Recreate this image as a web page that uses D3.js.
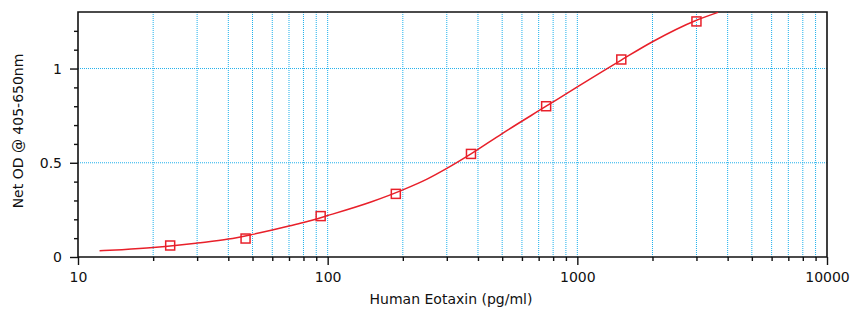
<!DOCTYPE html>
<html><head><meta charset="utf-8">
<script src="https://cdn.jsdelivr.net/npm/d3@7"></script>
<style>body{margin:0;background:#fff}svg{display:block}text{font-family:"DejaVu Sans",Arial,sans-serif;fill:#111}</style>
</head><body>
<svg id="c" width="852" height="312"></svg>
<script>
// Measured standards
const concentrations = [23.4, 46.9, 93.75, 187.5, 375, 750, 1500, 3000];
const odValues = [0.061, 0.098, 0.217, 0.335, 0.547, 0.800, 1.048, 1.250];
// Fitted curve
const curveConc = [12.2, 15, 20, 25, 30, 40, 50, 60, 70, 80, 100, 150, 200, 250, 300, 375, 500, 750, 1000, 1500, 2000, 3000, 3660];
const curveOD = [0.033, 0.039, 0.050, 0.062, 0.074, 0.095, 0.120, 0.143, 0.164, 0.183, 0.220, 0.293, 0.356, 0.413, 0.470, 0.547, 0.655, 0.800, 0.903, 1.045, 1.142, 1.256, 1.298];
const xTickLabels = [10, 100, 1000, 10000];
const yTickLabels = [0, 0.5, 1];
const yMinorTicks = [0.1,0.2,0.3,0.4,0.6,0.7,0.8,0.9,1.1,1.2];
const xLabel = "Human Eotaxin (pg/ml)";
const yLabel = "Net OD @ 405-650nm";

const L = 78, R = 827, T = 12, B = 257;
const svg = d3.select("#c");
const x = d3.scaleLog().domain([10, 10000]).range([L, R]);
const y = d3.scaleLinear().domain([0, 1.3]).range([B, T]);

const xMinor = [];
[10, 100, 1000].forEach(d => { for (let k = 2; k <= 9; k++) xMinor.push(d * k); });
const xGrid = xMinor.concat([100, 1000]);

const grid = "#1eb0ec";
svg.append("g").selectAll("line").data(xGrid).join("line")
  .attr("x1", d => x(d)).attr("x2", d => x(d)).attr("y1", T).attr("y2", B)
  .attr("stroke", grid).attr("stroke-width", 1).attr("stroke-dasharray", "1,1");
svg.append("g").selectAll("line").data([0.5, 1]).join("line")
  .attr("x1", L).attr("x2", R).attr("y1", d => y(d)).attr("y2", d => y(d))
  .attr("stroke", grid).attr("stroke-width", 1).attr("stroke-dasharray", "1,1");

// axes
const xAxis = svg.append("g").attr("transform", `translate(0,${B})`)
  .call(d3.axisBottom(x).tickValues(xTickLabels).tickFormat(d3.format("d")).tickSize(8).tickPadding(7));
const xAxisMinor = svg.append("g").attr("transform", `translate(0,${B})`)
  .call(d3.axisBottom(x).tickValues(xMinor).tickFormat("").tickSize(4));
const yAxis = svg.append("g").attr("transform", `translate(${L},0)`)
  .call(d3.axisLeft(y).tickValues(yTickLabels).tickFormat(d => d === 0 ? "0" : String(d)).tickSize(8).tickPadding(8));
const yAxisMinor = svg.append("g").attr("transform", `translate(${L},0)`)
  .call(d3.axisLeft(y).tickValues(yMinorTicks).tickFormat("").tickSize(4));
[xAxis, xAxisMinor, yAxis, yAxisMinor].forEach(g => {
  g.select(".domain").remove();
  g.selectAll("line").attr("stroke", "#111").attr("stroke-width", 1.4);
  g.selectAll("text").style("font-size", "14px").style("font-family", '"DejaVu Sans",Arial,sans-serif').attr("fill", "#111");
});
// frame
svg.append("path").attr("d", `M${L},${T}H${R}V${B}H${L}Z`).attr("fill", "none").attr("stroke", "#111").attr("stroke-width", 1.6);

// curve
const pts = curveConc.map((c, i) => [c, curveOD[i]]);
svg.append("path").datum(pts)
  .attr("d", d3.line().x(d => x(d[0])).y(d => y(d[1])).curve(d3.curveMonotoneX))
  .attr("fill", "none").attr("stroke", "#e8202a").attr("stroke-width", 1.5);

// markers
svg.append("g").selectAll("rect").data(concentrations).join("rect")
  .attr("x", (d) => x(d) - 4.5).attr("y", (d, i) => y(odValues[i]) - 4.5)
  .attr("width", 9).attr("height", 9)
  .attr("fill", "none").attr("stroke", "#e8202a").attr("stroke-width", 1.5);

// labels
svg.append("text").attr("x", 451).attr("y", 304).attr("text-anchor", "middle")
  .style("font-size", "14px").text(xLabel);
svg.append("text").attr("transform", "translate(23,131) rotate(-90)").attr("text-anchor", "middle")
  .style("font-size", "14px").text(yLabel);
</script>
</body></html>
